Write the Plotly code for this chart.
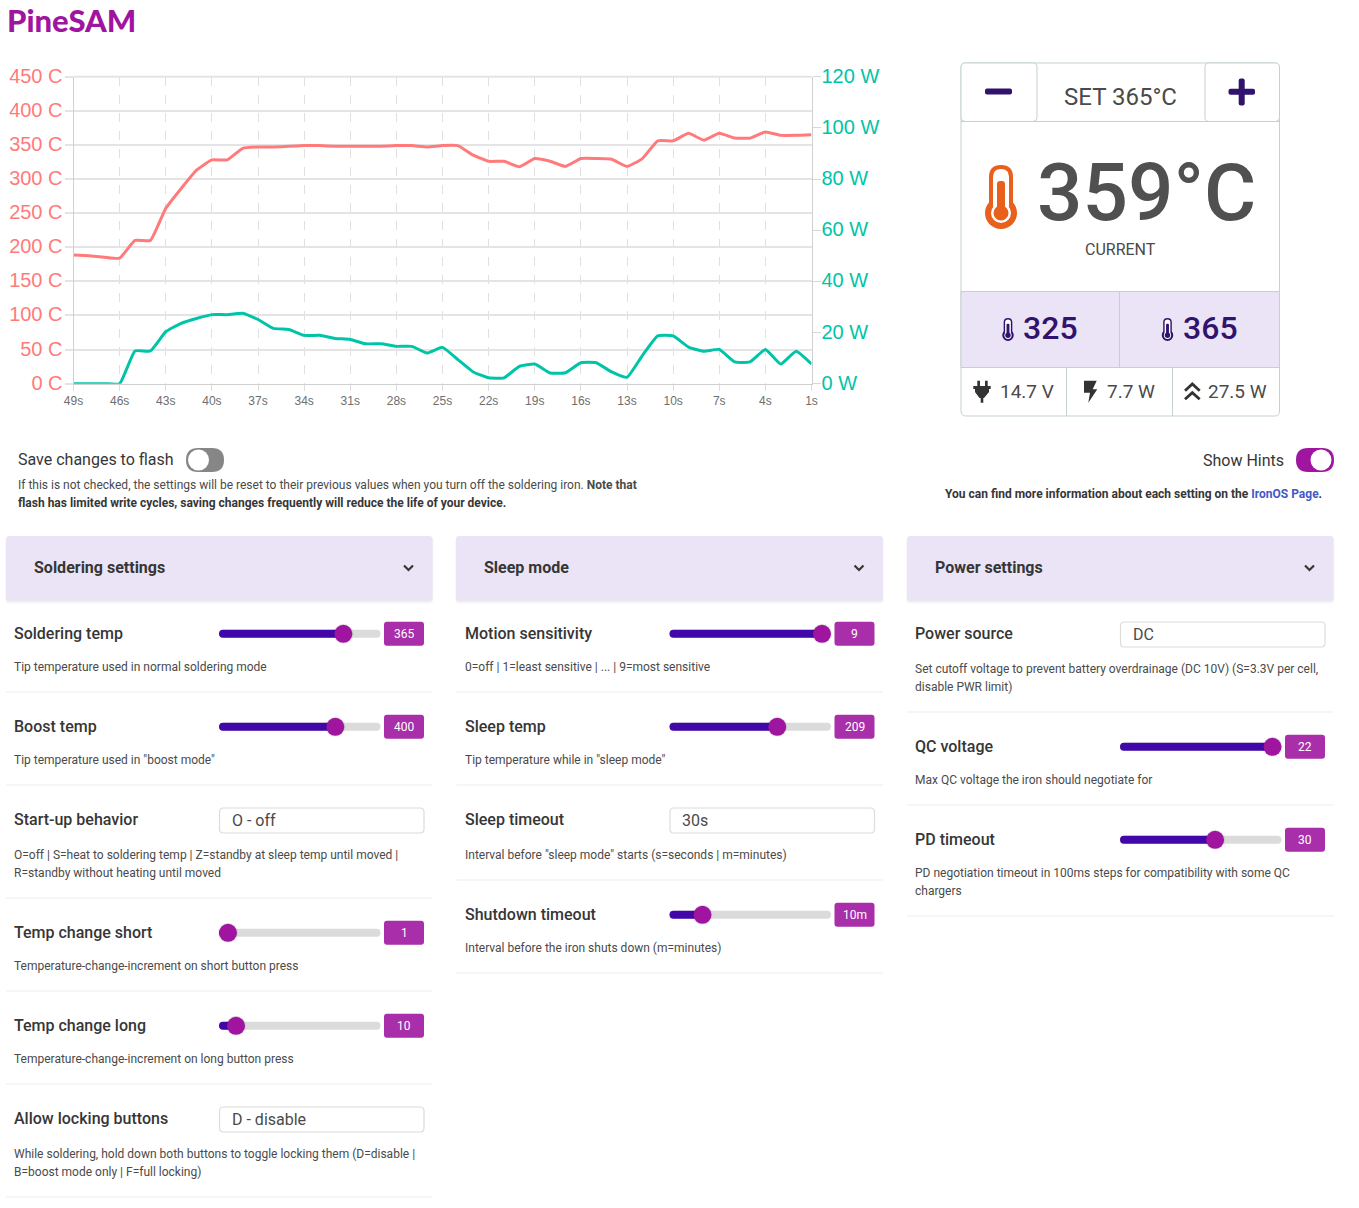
import plotly.graph_objects as go

W, H = 1359, 1208

# chart data, one reading per second
seconds = ["49s", "48s", "47s", "46s", "45s", "44s", "43s", "42s", "41s", "40s", "39s", "38s", "37s", "36s", "35s", "34s", "33s",
           "32s", "31s", "30s", "29s", "28s", "27s", "26s", "25s", "24s", "23s", "22s", "21s", "20s", "19s", "18s", "17s",
           "16s", "15s", "14s", "13s", "12s", "11s", "10s", "9s", "8s", "7s", "6s", "5s", "4s", "3s", "2s", "1s"]
temperature = [188.5, 187.5, 185.5, 184, 210, 210, 257, 286, 313, 328, 328, 345, 347, 347, 348, 349, 349,
               348, 348, 348, 348, 349, 349, 347, 349, 349, 335, 326, 326, 318, 330, 326, 318.5,
               330, 330, 329, 318.5, 330, 356, 356, 367, 357, 367, 360, 360, 369, 364, 364, 365]
power = [0, 0, 0, 0, 12.8, 12.8, 20.3, 23.6, 25.5, 27, 27, 27.5, 25.1, 21.6, 21.2, 18.9, 18.9,
         17.7, 17.3, 15.6, 15.6, 14.6, 14.6, 12, 14.2, 9.4, 4.6, 2.3, 2.3, 6.8, 7.7, 4.2, 4.3,
         8.2, 8.2, 4.6, 2.5, 11, 18.7, 18.7, 14.3, 12.7, 13.4, 8.5, 8.5, 13.4, 7.7, 12.7, 7.7]
x_ticks = ["49s", "46s", "43s", "40s", "37s", "34s", "31s", "28s", "25s", "22s", "19s", "16s", "13s", "10s", "7s", "4s", "1s"]
temp_ticks = [0, 50, 100, 150, 200, 250, 300, 350, 400, 450]
temp_labels = ["0 C", "50 C", "100 C", "150 C", "200 C", "250 C", "300 C", "350 C", "400 C", "450 C"]
power_ticks = [0, 20, 40, 60, 80, 100, 120]
power_labels = ["0 W", "20 W", "40 W", "60 W", "80 W", "100 W", "120 W"]

# widget readouts
set_temp = "SET 365°C"
current_temp = "359°C"
presets = ["325", "365"]
readouts = ["14.7 V", "7.7 W", "27.5 W"]

# settings columns; level is the slider position 0..1, None means a select box
panel_titles = ["Soldering settings", "Sleep mode", "Power settings"]

soldering_names = ["Soldering temp", "Boost temp", "Start-up behavior", "Temp change short", "Temp change long", "Allow locking buttons"]
soldering_values = ["365", "400", "O - off", "1", "10", "D - disable"]
soldering_levels = [0.804, 0.748, None, 0, 0.056, None]
soldering_hints = [["Tip temperature used in normal soldering mode"],
                   ['Tip temperature used in "boost mode"'],
                   ["O=off | S=heat to soldering temp | Z=standby at sleep temp until moved |", "R=standby without heating until moved"],
                   ["Temperature-change-increment on short button press"],
                   ["Temperature-change-increment on long button press"],
                   ["While soldering, hold down both buttons to toggle locking them (D=disable |", "B=boost mode only | F=full locking)"]]

sleep_names = ["Motion sensitivity", "Sleep temp", "Sleep timeout", "Shutdown timeout"]
sleep_values = ["9", "209", "30s", "10m"]
sleep_levels = [1, 0.688, None, 0.167]
sleep_hints = [["0=off | 1=least sensitive | ... | 9=most sensitive"],
               ['Tip temperature while in "sleep mode"'],
               ['Interval before "sleep mode" starts (s=seconds | m=minutes)'],
               ["Interval before the iron shuts down (m=minutes)"]]

power_names = ["Power source", "QC voltage", "PD timeout"]
power_values = ["DC", "22", "30"]
power_levels = [None, 1, 0.6]
power_hints = [["Set cutoff voltage to prevent battery overdrainage (DC 10V) (S=3.3V per cell,", "disable PWR limit)"],
               ["Max QC voltage the iron should negotiate for"],
               ["PD negotiation timeout in 100ms steps for compatibility with some QC", "chargers"]]

RED = "#ff7b7b"
GREEN = "#00c4a7"
PURPLE = "#a015a0"
BADGE = "#a82eaa"
INDIGO = "#31136e"
LILAC = "#ebe4f7"
DARK = "#363636"
TEXT = "#4a4a4a"
BORDER = "#c5d0d0"
GRID = "#e4e4e4"
SMALL = 12

shapes = []
notes = []


def fx(x):
    return x / W


def fy(y):
    return 1 - y / H


def pt(x, y):
    return f"{fx(x):.6f} {fy(y):.6f}"


def path(d, fill=None, line=None, width=1):
    s = dict(type="path", path=d, xref="paper", yref="paper", line=dict(width=width if line else 0, color=line or "rgba(0,0,0,0)"))
    if fill:
        s["fillcolor"] = fill
    shapes.append(s)


def rrect(x0, y0, x1, y1, r, fill=None, line=None, width=1):
    d = (f"M {pt(x0 + r, y0)} L {pt(x1 - r, y0)} Q {pt(x1, y0)} {pt(x1, y0 + r)} L {pt(x1, y1 - r)} "
         f"Q {pt(x1, y1)} {pt(x1 - r, y1)} L {pt(x0 + r, y1)} Q {pt(x0, y1)} {pt(x0, y1 - r)} "
         f"L {pt(x0, y0 + r)} Q {pt(x0, y0)} {pt(x0 + r, y0)} Z")
    path(d, fill, line, width)


def poly(points, fill=None, line=None, width=1, close=True):
    d = "M " + " L ".join(pt(x, y) for x, y in points) + (" Z" if close else "")
    path(d, fill, line, width)


def circle(cx, cy, r, fill):
    shapes.append(dict(type="circle", xref="paper", yref="paper", x0=fx(cx - r), x1=fx(cx + r),
                       y0=fy(cy + r), y1=fy(cy - r), fillcolor=fill, line=dict(width=0)))


def hline(x0, x1, y, color, width=1):
    poly([(x0, y), (x1, y)], None, color, width, close=False)


def vline(x, y0, y1, color, width=1):
    poly([(x, y0), (x, y1)], None, color, width, close=False)


def text(x, y, s, size=16, color=DARK, anchor="left", weight=400, family="Roboto"):
    notes.append(dict(x=fx(x), y=fy(y), xref="paper", yref="paper", text=s, showarrow=False, xanchor=anchor, yanchor="middle",
                      borderpad=0, borderwidth=0, align=anchor,
                      font=dict(family=family, size=size, color=color, weight=weight)))


def thermometer(cx, top, k, color):
    # k scales the big icon, which is 32 wide and 64 tall
    cy = top + 48 * k
    rrect(cx - 12 * k, top, cx + 12 * k, cy, 12 * k, color)
    circle(cx, cy, 16 * k, color)
    rrect(cx - 8 * k, top + 4 * k, cx + 8 * k, cy, 8 * k, "white")
    circle(cx, cy, 10 * k, "white")
    rrect(cx - 4 * k, top + 16 * k, cx + 4 * k, cy, 3 * k, color)
    circle(cx, cy, 7.5 * k, color)


def draw_column(x, names, values, levels, hints):
    # x is the left edge of the column, rows are stacked from the panel bottom
    top = 599
    for name, value, level, hint in zip(names, values, levels, hints):
        name_y = top + 34
        text(x + 8, name_y, name, 16, DARK, weight=500)
        if level is None:
            rrect(x + 213.5, name_y - 11, x + 418, name_y + 14, 4, "white", "#dcdcdc", 1.2)
            text(x + 225.5, name_y + 1, value, 16, TEXT)
            hint_y = name_y + 36
        else:
            slider_y = name_y + 0.8
            tx0, tx1 = x + 213, x + 374.5
            thumb = tx0 + 9 + level * (tx1 - tx0 - 18)
            rrect(tx0, slider_y - 4, tx1, slider_y + 4, 4, "#dbdbdb")
            rrect(tx0, slider_y - 4, thumb, slider_y + 4, 4, "#4107a8")
            circle(thumb, slider_y, 10, "rgba(0,0,0,0.08)")
            circle(thumb, slider_y, 9, PURPLE)
            rrect(x + 378, slider_y - 12, x + 418, slider_y + 12, 3, BADGE)
            text(x + 398, slider_y, value, 12, "white", "center")
            hint_y = name_y + 34
        for i, line in enumerate(hint):
            text(x + 8, hint_y + 18 * i, line, SMALL, TEXT)
        top = hint_y + 18 * (len(hint) - 1) + 25
        hline(x, x + 426.5, top, "#ededed", 1.2)


fig = go.Figure()
fig.add_trace(go.Scatter(x=seconds, y=temperature, mode="lines", yaxis="y", cliponaxis=False,
                         line=dict(color=RED, width=3, shape="spline", smoothing=0.4)))
fig.add_trace(go.Scatter(x=seconds, y=power, mode="lines", yaxis="y2", cliponaxis=False,
                         line=dict(color=GREEN, width=3, shape="spline", smoothing=0.4)))

# plotly leaves out the grid line at the very top of the range
hline(73.5, 811.5, 76.7, GRID, 2)

# logo
text(7, 20, "PineSAM", 31, PURPLE, weight=900, family="Lato")

# widget top right
rrect(961, 63, 1279.5, 416, 5, "white", BORDER)
rrect(961, 63, 1037, 121.5, 4, "white", BORDER)
rrect(1205, 63, 1279.5, 121.5, 4, "white", BORDER)
hline(961, 1279.5, 121.5, BORDER)
path(f"M {pt(961, 291.5)} L {pt(1279.5, 291.5)} L {pt(1279.5, 367.5)} L {pt(961, 367.5)} Z", LILAC, BORDER)
vline(1119.5, 291.5, 367.5, BORDER)
vline(1066.5, 367.5, 416, BORDER)
vline(1172.5, 367.5, 416, BORDER)
rrect(985, 88.5, 1012, 94.5, 2, INDIGO)
rrect(1228.5, 88.8, 1255, 94.8, 2, INDIGO)
rrect(1238.7, 78.5, 1244.7, 105.5, 2, INDIGO)
text(1120, 97, set_temp, 24, TEXT, "center")
thermometer(1001, 165, 1, "#e8601c")
text(1146, 193, current_temp, 80, "#505050", "center", weight=500)
text(1120, 249.5, "CURRENT", 16, TEXT, "center")
thermometer(1008, 318, 0.36, INDIGO)
thermometer(1167.5, 318, 0.36, INDIGO)
text(1023, 328, presets[0], 32, INDIGO, weight=500)
text(1182.5, 328, presets[1], 32, INDIGO, weight=500)
text(1000, 391.5, readouts[0], 19, TEXT)
text(1107, 391.5, readouts[1], 19, TEXT)
text(1208, 391.5, readouts[2], 19, TEXT)
# plug, bolt, chevrons
poly([(977.3, 380.7), (980, 380.7), (980, 386), (985, 386), (985, 380.7), (987.7, 380.7), (987.7, 386), (990.7, 386), (990.7, 389),
      (989, 389), (989, 392), (984, 398), (983.3, 398), (983.3, 402.7), (980.7, 402.7), (980.7, 398), (979.5, 398), (975, 392), (975, 389),
      (973.3, 389), (973.3, 386), (977.3, 386)], "#333333")
poly([(1084, 380.7), (1096.7, 380.7), (1092.7, 389.3), (1097.3, 389.3), (1088.3, 402.7), (1090, 392.7), (1084, 392.7)], "#333333")
poly([(1185, 390.7), (1192.3, 384), (1199.7, 390.7)], None, "#333333", 2.8, close=False)
poly([(1185, 399.3), (1192.3, 392.6), (1199.7, 399.3)], None, "#333333", 2.8, close=False)

# flash and hints switches
text(17.5, 459.5, "Save changes to flash", 16, DARK)
rrect(186, 448, 224, 472, 12, "#868686")
circle(198.5, 460, 10.5, "white")
text(17.5, 485, "If this is not checked, the settings will be reset to their previous values when you turn off the soldering iron. <b>Note that</b>", SMALL, TEXT)
text(17.5, 503, "<b>flash has limited write cycles, saving changes frequently will reduce the life of your device.</b>", SMALL, DARK)
text(1284, 460, "Show Hints", 16, DARK, "right")
rrect(1296, 448, 1334, 472, 12, PURPLE)
circle(1321, 460, 10.5, "white")
text(1321.5, 494, "<b>You can find more information about each setting on the <span style='color:#4358c8'>IronOS Page</span>.</b>", SMALL, DARK, "right")

# settings panels
for x0, x1, title in zip([6, 456, 907], [432.5, 883, 1333.5], panel_titles):
    rrect(x0 - 1, 537, x1 + 1, 604, 4, "rgba(0,0,0,0.025)")
    rrect(x0, 537, x1, 602, 3, "rgba(0,0,0,0.05)")
    rrect(x0, 536, x1, 600.5, 3, LILAC)
    text(x0 + 27.5, 567.5, title, 16, DARK, weight=700)
    poly([(x1 - 28.5, 565.5), (x1 - 24, 570), (x1 - 19.5, 565.5)], None, DARK, 2.2, close=False)

draw_column(6, soldering_names, soldering_values, soldering_levels, soldering_hints)
draw_column(456.5, sleep_names, sleep_values, sleep_levels, sleep_hints)
draw_column(907, power_names, power_values, power_levels, power_hints)

fig.update_layout(
    width=W,
    height=H,
    margin=dict(l=0, r=0, t=0, b=0),
    paper_bgcolor="white",
    plot_bgcolor="white",
    showlegend=False,
    shapes=shapes,
    annotations=notes,
    xaxis=dict(
        automargin=False,
        domain=[fx(73.5), fx(811.5)],
        type="category",
        categoryorder="array",
        categoryarray=seconds,
        range=[0, 48],
        tickmode="array",
        tickvals=x_ticks,
        ticktext=x_ticks,
        ticks="outside",
        ticklen=6,
        tickcolor="#dcdcdc",
        tickfont=dict(family="Liberation Sans", size=12, color="#6e6e6e"),
        showgrid=True,
        gridcolor="#e0e0e0",
        griddash="dash",
        gridwidth=1,
        zeroline=False,
        showline=True,
        linecolor="#cfcfcf",
    ),
    yaxis=dict(
        automargin=False,
        domain=[fy(383.7), fy(76.7)],
        range=[0, 450],
        tickmode="array",
        tickvals=temp_ticks,
        ticktext=temp_labels,
        ticks="outside",
        ticklen=8,
        tickwidth=2,
        tickcolor=GRID,
        ticklabelstandoff=-2,
        ticklabelshift=-1,
        tickfont=dict(family="Liberation Sans", size=20, color=RED),
        gridcolor=GRID,
        gridwidth=2,
        zeroline=False,
        showline=True,
        linecolor="#d0d0d0",
    ),
    yaxis2=dict(
        automargin=False,
        domain=[fy(383.7), fy(76.7)],
        overlaying="y",
        side="right",
        range=[0, 120],
        tickmode="array",
        tickvals=power_ticks,
        ticktext=power_labels,
        ticks="outside",
        ticklen=8,
        tickcolor="#d8d8d8",
        ticklabelstandoff=-3,
        ticklabelshift=-1,
        tickfont=dict(family="Liberation Sans", size=20, color=GREEN),
        showgrid=False,
        zeroline=False,
        showline=True,
        linecolor="#d0d0d0",
    ),
)

fig.write_html("out.html", config={"displayModeBar": False}, post_script="document.body.style.margin='0';")
